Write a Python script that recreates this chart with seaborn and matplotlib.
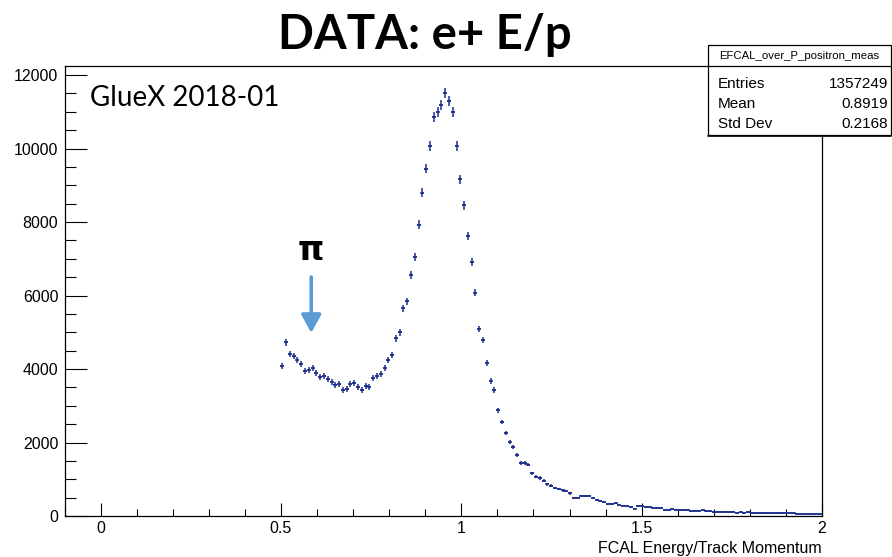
import numpy as np
import matplotlib
matplotlib.use("Agg")
import matplotlib.pyplot as plt
from matplotlib.ticker import MultipleLocator, FixedLocator
from matplotlib.patches import Rectangle
from matplotlib.lines import Line2D
import seaborn as sns

# Histogram definition: 200 bins over [-0.1, 2.0]; filled bins start at bin 57 (E/p > 0.5)
hist_range = (-0.1, 2.0)
n_bins = 200
first_filled_bin = 57

counts = [
    # 0.50 - 0.83
    4090, 4726, 4408, 4362, 4245, 4127, 3954, 3964, 4018, 3900, 3774, 3818,
    3720, 3655, 3565, 3584, 3429, 3456, 3584, 3611, 3510, 3429, 3537, 3510,
    3747, 3818, 3856, 4018, 4254, 4381, 4835, 4998,
    # electron peak
    5651, 5841, 6549, 7039, 7927, 8798, 9451, 10068, 10849, 10985, 11192,
    11518, 11284, 10985, 10068, 9162, 8454, 7619,
    # falling edge
    6920, 6077, 5088, 4789, 4172, 3682, 3429, 2875, 2558, 2259, 2014, 1878, 1660,
    1442, 1442, 1397, 1161, 1070, 1034, 961, 862, 825, 762, 735, 699, 680,
    617, 482, 482, 535, 535, 550,
    # tail
    481, 435, 408, 372, 318, 336, 345, 290, 281, 263, 236, 200, 281, 272, 245,
    236, 227, 218, 218, 172, 172, 181, 172, 163, 154, 172, 127, 145, 145, 154,
    136, 127, 109, 109, 118, 109, 100, 109, 91, 100, 91, 100, 91, 82, 73,
    73, 73, 73, 73, 73, 73, 82, 73, 73, 54, 45, 54, 54, 45, 54, 45,
]

hist_name = "EFCAL_over_P_positron_meas"
stat_labels = ["Entries", "Mean", "Std Dev"]
stat_values = ["1357249", "0.8919", "0.2168"]

title = "DATA: e+ E/p"
run_label = "GlueX 2018-01"
x_title = "FCAL Energy/Track Momentum"

sns.set_theme(style="ticks")
plt.rcParams["font.family"] = ["Liberation Sans", "DejaVu Sans"]

W, H = 892, 557
fig = plt.figure(figsize=(W / 100, H / 100), dpi=100)
fig.patch.set_facecolor("white")


def fx(px):
    return px / W


def fy(py):
    return 1 - py / H


ax_l, ax_r, ax_t, ax_b = 64.5, 822.0, 65.5, 516.0
ax = fig.add_axes([fx(ax_l), fy(ax_b), (ax_r - ax_l) / W, (ax_b - ax_t) / H])
ax.set_facecolor("white")

edges = np.linspace(hist_range[0], hist_range[1], n_bins + 1)
bw = edges[1] - edges[0]
counts = np.asarray(counts, dtype=float)
centers = (edges[:-1] + edges[1:])[first_filled_bin:first_filled_bin + len(counts)] / 2
# weighted-fill uncertainty per bin
yerr = 1.3 * np.sqrt(counts)

mark_color = "#1d2f8c"
ax.errorbar(centers, counts, yerr=yerr, xerr=bw / 2, fmt="none",
            ecolor=mark_color, elinewidth=1.1, capsize=0, zorder=3)
sns.scatterplot(x=centers, y=counts, ax=ax, marker="_", s=9, color=mark_color,
                linewidth=1.1, zorder=4, legend=False)

ax.set_xlim(*hist_range)
ax.set_ylim(0, 12260)
ax.xaxis.set_major_locator(FixedLocator([0, 0.5, 1, 1.5, 2]))
ax.xaxis.set_minor_locator(MultipleLocator(0.1))
ax.yaxis.set_major_locator(MultipleLocator(2000))
ax.yaxis.set_minor_locator(MultipleLocator(500))
ax.set_xticklabels(["0", "0.5", "1", "1.5", "2"])
ax.tick_params(which="both", direction="in", top=False, right=False,
               color="black", width=0.8, labelsize=11.5, labelcolor="black")
ax.tick_params(axis="y", which="major", length=15.8, pad=4.5)
ax.tick_params(axis="y", which="minor", length=7.9)
ax.tick_params(axis="x", which="major", length=9.7, pad=3.5)
ax.tick_params(axis="x", which="minor", length=4.9)
for s in ax.spines.values():
    s.set_color("black")
    s.set_linewidth(0.9)
ax.grid(False)

fig.text(fx(822), fy(548), x_title, ha="right", va="center", fontsize=11.5,
         color="black")

# Title and run label
fig.text(fx(425), fy(35), title, ha="center", va="center", fontsize=34,
         fontweight="bold", family=["Lato", "DejaVu Sans"], color="black")
fig.text(fx(90), fy(98), run_label, ha="left", va="center", fontsize=20,
         family=["Lato", "DejaVu Sans"], color="black")

# pion region marker
ax.text(0.584, 7238, "π", ha="center", va="center", fontsize=24,
        fontweight="bold", family=["DejaVu Sans"], color="black")
ax.annotate("", xy=(0.584, 4980), xytext=(0.584, 6503),
            arrowprops=dict(arrowstyle="-|>,head_length=0.55,head_width=0.3",
                            color="#5b9bd5", lw=2.6, mutation_scale=20,
                            shrinkA=0, shrinkB=0))

# Statistics box
bx_l, bx_r, bx_t, bx_b, bx_sep = 708, 891, 45, 135, 66
fig.patches.append(Rectangle((fx(bx_l), fy(bx_b)), (bx_r - bx_l) / W,
                             (bx_b - bx_t) / H, transform=fig.transFigure,
                             facecolor="white", edgecolor="black", lw=0.9,
                             zorder=10))
fig.lines.append(Line2D([fx(bx_l), fx(bx_r)], [fy(bx_b + 1), fy(bx_b + 1)],
                        transform=fig.transFigure, color="black", lw=1.2,
                        zorder=11))
fig.lines.append(Line2D([fx(bx_l), fx(bx_r)], [fy(bx_sep), fy(bx_sep)],
                        transform=fig.transFigure, color="black", lw=0.9,
                        zorder=11))
fig.text(fx((bx_l + bx_r) / 2), fy(56), hist_name, ha="center", va="center",
         fontsize=8.2, color="black", zorder=12)
for lab, val, yy in zip(stat_labels, stat_values, [84, 104, 124]):
    fig.text(fx(718), fy(yy), lab, ha="left", va="center", fontsize=11,
             color="black", zorder=12)
    fig.text(fx(888), fy(yy), val, ha="right", va="center", fontsize=11,
             color="black", zorder=12)

fig.savefig("out.png", dpi=100, facecolor="white")
